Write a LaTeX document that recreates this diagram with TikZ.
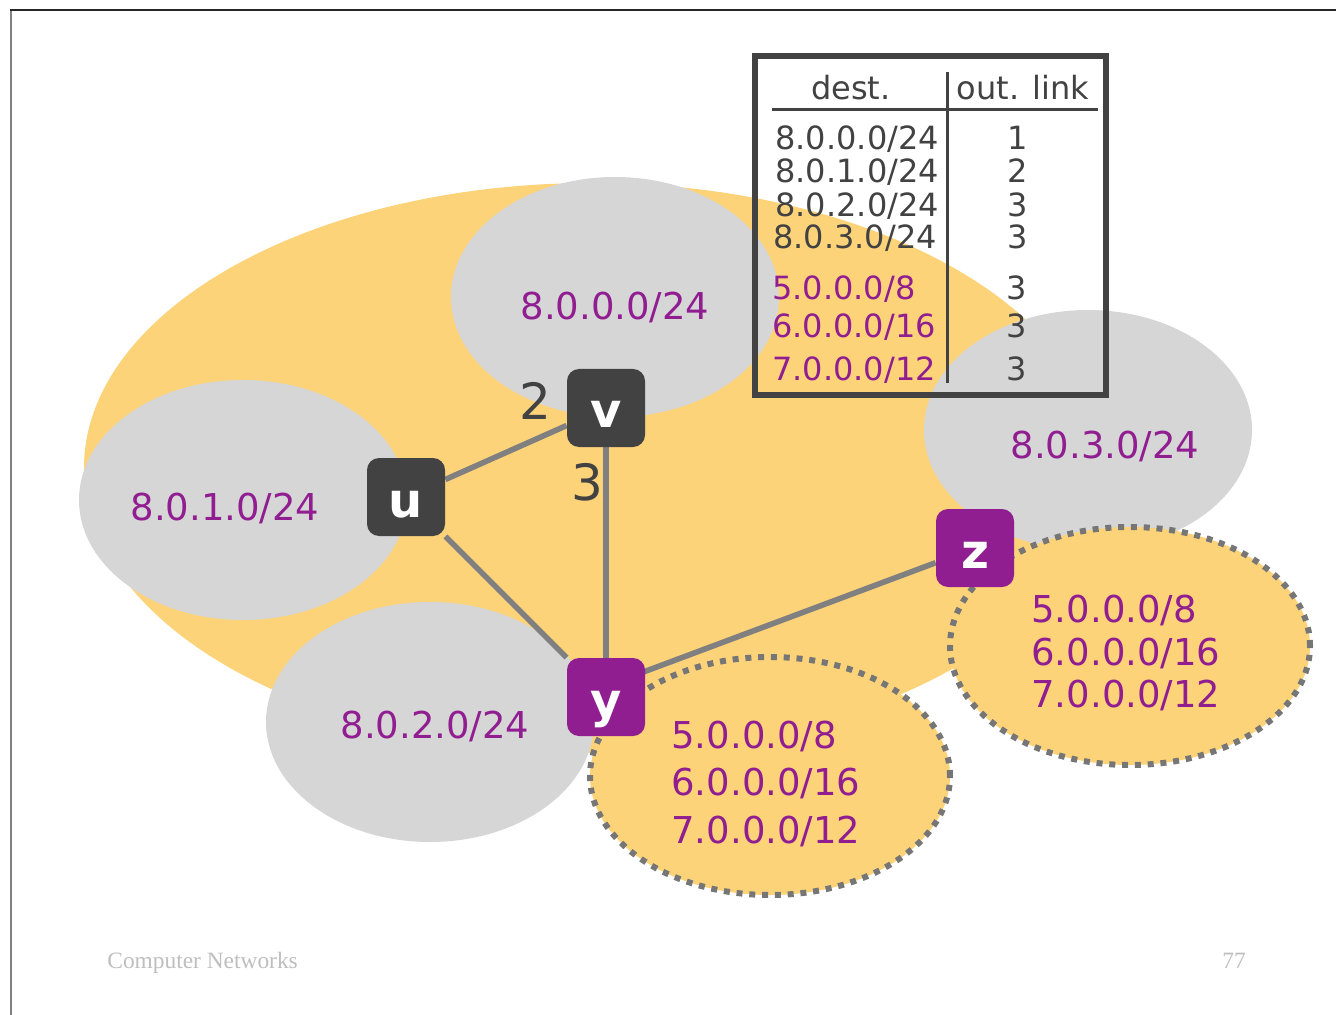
\documentclass[tikz,border=0pt]{standalone}
\usepackage{fontspec}
\setmainfont{DejaVu Sans}
\newfontfamily\footfont{Liberation Serif}
\usetikzlibrary{shapes.geometric}

\pgfdeclarelayer{back}
\pgfdeclarelayer{links}
\pgfsetlayers{back,links,main}

\definecolor{blob}{RGB}{253,211,122}
\definecolor{subgray}{RGB}{214,214,214}
\definecolor{plum}{RGB}{145,30,145}
\definecolor{dark}{RGB}{66,66,66}
\definecolor{wire}{RGB}{128,128,128}
\definecolor{dotgray}{RGB}{118,118,118}
\definecolor{footgray}{RGB}{190,190,190}

\tikzset{
  asblob/.style={ellipse, fill=blob, minimum width=508pt, minimum height=285pt, inner sep=0pt},
  subnet/.style={ellipse, fill=subgray, minimum width=164pt, minimum height=120pt, inner sep=0pt},
  extnet/.style={ellipse, fill=blob, draw=dotgray, line width=3pt, dash pattern=on 3pt off 3.4pt,
    minimum width=180pt, minimum height=119pt, inner sep=0pt},
  addr/.style={text=plum, font=\fontsize{18.5}{22}\selectfont, anchor=base, inner sep=0pt},
  extaddr/.style={addr, anchor=base west},
  router/.style={rectangle, rounded corners=6pt, minimum size=39pt, inner sep=0pt, text=white,
    font=\fontsize{24}{24}\selectfont\bfseries, text height=20pt, text depth=0pt},
  corert/.style={router, fill=dark},
  gatert/.style={router, fill=plum},
  link/.style={draw=wire, line width=2.8pt},
  cost/.style={text=dark, font=\fontsize{25}{25}\selectfont, anchor=base, inner sep=0pt},
  fwd/.style={draw=dark, line width=3pt, minimum width=175.5pt, minimum height=169.5pt, inner sep=0pt},
  tabrule/.style={draw=dark, line width=1.5pt},
  tabrow/.style={font=\fontsize{16}{18}\selectfont, anchor=base west, text=dark, inner sep=0pt},
  tabport/.style={tabrow, anchor=base},
  foot/.style={text=footgray, font=\footfont\fontsize{11.7}{13}\selectfont, inner sep=0pt}
}

\begin{document}
\begin{tikzpicture}[x=0.5pt,y=-0.5pt]
\useasboundingbox (0,0) rectangle (1336,1015);

% slide frame
\draw[gray, line width=0.8pt] (11,1015) -- (11,10);
\draw[black!85, line width=0.8pt] (10,10) -- (1336,10);

\begin{pgfonlayer}{back}
% network with its subnets
\node[asblob] (as) at (592,468) {};
\node[subnet] (s0) at (615,297) {};
\node[subnet] (s1) at (243,500) {};
\node[subnet] (s2) at (430,722) {};
\node[subnet] (s3) at (1088,430) {};
\node[addr] (a0) at (615,320) {8.0.0.0/24};
\node[addr] (a1) at (225,520) {8.0.1.0/24};
\node[addr] (a2) at (435,738) {8.0.2.0/24};
\node[addr] (a3) at (1105,458) {8.0.3.0/24};

% external prefixes
\node[extnet] (ey) at (770,776) {};
\node[extnet] (ez) at (1130,646) {};
\node[extaddr] (ey1) at (671,748) {5.0.0.0/8};
\node[extaddr] (ey2) at (671,795) {6.0.0.0/16};
\node[extaddr] (ey3) at (671,843) {7.0.0.0/12};
\node[extaddr] (ez1) at (1031,622) {5.0.0.0/8};
\node[extaddr] (ez2) at (1031,665) {6.0.0.0/16};
\node[extaddr] (ez3) at (1031,707) {7.0.0.0/12};

% forwarding table of u
\node[fwd] (tbl) at (930.5,225.5) {};
\node[tabport] (hd) at (851,100) {dest.};
\node[tabport] (hl) at (1023,100) {out. link};
\draw[tabrule] (772,110) -- (1098,110);
\draw[tabrule] (947,72) -- (947,383);
\node[tabrow] (r0) at (775,150) {8.0.0.0/24};
\node[tabrow] (r1) at (775,183) {8.0.1.0/24};
\node[tabrow] (r2) at (775,217) {8.0.2.0/24};
\node[tabrow] (r3) at (773,249) {8.0.3.0/24};
\node[tabrow, text=plum] (r4) at (772,300) {5.0.0.0/8};
\node[tabrow, text=plum] (r5) at (772,338) {6.0.0.0/16};
\node[tabrow, text=plum] (r6) at (772,380) {7.0.0.0/12};
\node[tabport] (p0) at (1018,150) {1};
\node[tabport] (p1) at (1018,183) {2};
\node[tabport] (p2) at (1018,217) {3};
\node[tabport] (p3) at (1018,249) {3};
\node[tabport] (p4) at (1017,300) {3};
\node[tabport] (p5) at (1017,338) {3};
\node[tabport] (p6) at (1017,380) {3};
\end{pgfonlayer}

% routers
\node[corert] (u) at (406,497) {u};
\node[corert] (v) at (606,408) {v};
\node[gatert] (y) at (606,697) {y};
\node[gatert] (z) at (975,548) {z};

\begin{pgfonlayer}{links}
\draw[link] (u) -- (v);
\draw[link] (u) -- (y);
\draw[link] (v) -- (y);
\draw[link] ([yshift=5.5pt]y.center) -- (z);
\end{pgfonlayer}

\node[cost] (c2) at (535,420) {2};
\node[cost] (c3) at (587,500) {3};

\node[foot, anchor=base west] (title) at (107,968) {Computer Networks};
\node[foot, anchor=base] (page) at (1234,968) {77};
\end{tikzpicture}
\end{document}
